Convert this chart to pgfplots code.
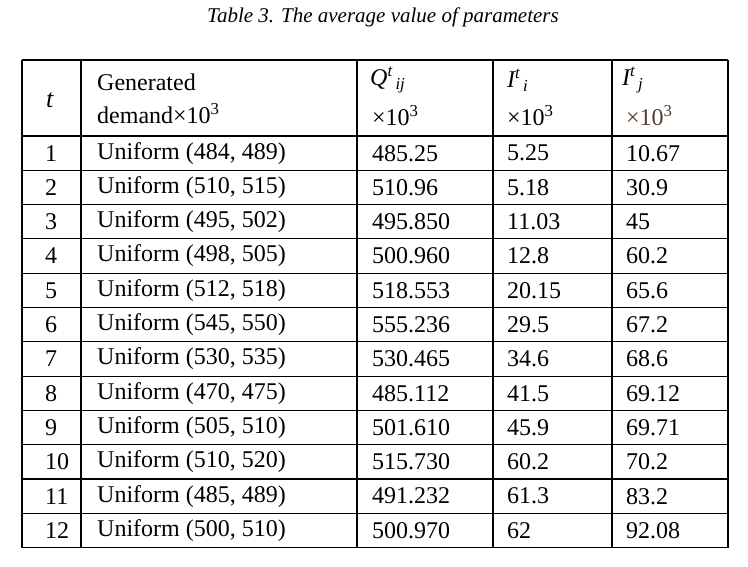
\documentclass[border=0pt]{standalone}
\usepackage{pgfplots}
\pgfplotsset{compat=1.18}
\usepackage{fontspec}
\setmainfont{Liberation Serif}
\tikzset{cell/.style={anchor=west,inner sep=0pt,font=\fontsize{24}{28}\selectfont}}
\begin{document}
\begin{tikzpicture}
\begin{axis}[x=1pt,y=1pt,xmin=0,xmax=748,ymin=0,ymax=567,y dir=reverse,hide axis,clip=false]
\addplot[draw=none] coordinates {(0,0) (748,567)};
\pgfplotsinvokeforeach{60,136,170.3,204.6,238.9,273.2,307.5,341.8,376.1,410.4,444.7,479,513.3,547.6}{
  \addplot[black,line width=1.2pt] coordinates {(22,#1) (728,#1)};
}
\pgfplotsinvokeforeach{22,81,357,493,612,728}{
  \addplot[black,line width=1.2pt] coordinates {(#1,60) (#1,547.6)};
}
\node[anchor=center,inner sep=0pt,font=\fontsize{21}{24}\selectfont\itshape] at (axis cs:383,17) {Table 3. The average value of parameters};
\node[cell,font=\fontsize{26}{28}\selectfont\itshape] at (axis cs:46,100) {t};
\node[cell] at (axis cs:97,82) {Generated};
\node[cell] at (axis cs:97,114) {demand×10\textsuperscript{3}};
\node[cell] at (axis cs:370,80) {\itshape Q\textsuperscript{t}\textsubscript{\,ij}};
\node[cell] at (axis cs:372,116) {×10\textsuperscript{3}};
\node[cell] at (axis cs:507,80) {\itshape I\textsuperscript{t}\textsubscript{\,i}};
\node[cell] at (axis cs:507,116) {×10\textsuperscript{3}};
\node[cell] at (axis cs:622,80) {\itshape I\textsuperscript{t}\textsubscript{\,j}};
\node[cell] at (axis cs:626,116) {\color[HTML]{5A3A2A}×10\textsuperscript{3}};
\def\r#1#2#3#4#5#6{%
  \node[cell] at (axis cs:45,#1) {#2};
  \node[cell] at (axis cs:97,#1) {#3};
  \node[cell] at (axis cs:372,#1) {#4};
  \node[cell] at (axis cs:507,#1) {#5};
  \node[cell] at (axis cs:626,#1) {#6};}
\r{153.2}{1}{Uniform (484, 489)}{485.25}{5.25}{10.67}
\r{187.5}{2}{Uniform (510, 515)}{510.96}{5.18}{30.9}
\r{221.8}{3}{Uniform (495, 502)}{495.850}{11.03}{45}
\r{256.1}{4}{Uniform (498, 505)}{500.960}{12.8}{60.2}
\r{290.4}{5}{Uniform (512, 518)}{518.553}{20.15}{65.6}
\r{324.7}{6}{Uniform (545, 550)}{555.236}{29.5}{67.2}
\r{359}{7}{Uniform (530, 535)}{530.465}{34.6}{68.6}
\r{393.3}{8}{Uniform (470, 475)}{485.112}{41.5}{69.12}
\r{427.6}{9}{Uniform (505, 510)}{501.610}{45.9}{69.71}
\r{461.9}{10}{Uniform (510, 520)}{515.730}{60.2}{70.2}
\r{496.2}{11}{Uniform (485, 489)}{491.232}{61.3}{83.2}
\r{530.5}{12}{Uniform (500, 510)}{500.970}{62}{92.08}
\end{axis}
\end{tikzpicture}
\end{document}
